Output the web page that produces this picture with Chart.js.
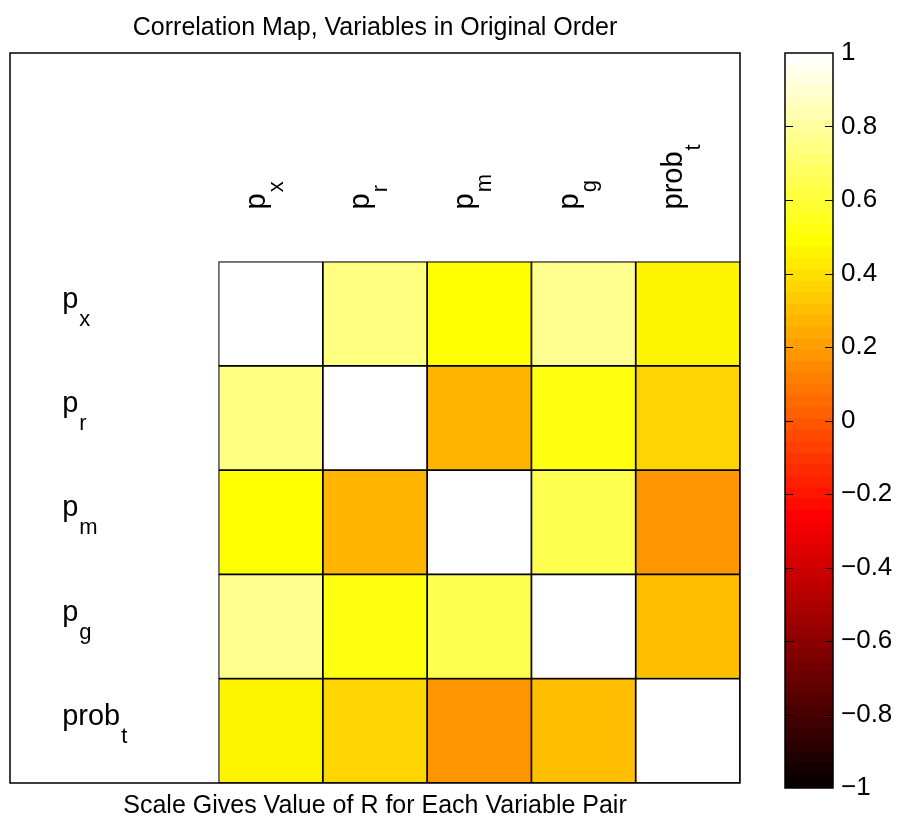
<!DOCTYPE html>
<html>
<head>
<meta charset="utf-8">
<script src="https://cdn.jsdelivr.net/npm/chart.js@4.4.0/dist/chart.umd.min.js"></script>
<style>
  html, body { margin: 0; padding: 0; background: #ffffff; }
  #wrap { position: relative; width: 903px; height: 822px; overflow: hidden; }
  #mainBox { position: absolute; left: 0; top: 0; width: 760px; height: 822px; }
  #cbarBox { position: absolute; left: 760px; top: 0; width: 143px; height: 822px; }
</style>
</head>
<body>
<div id="wrap">
  <div id="mainBox"><canvas id="main" width="760" height="822"></canvas></div>
  <div id="cbarBox"><canvas id="cbar" width="143" height="822"></canvas></div>
</div>
<script>
// ---------------- DATA ----------------
const varBase = ['p', 'p', 'p', 'p', 'prob'];
const varSub  = ['x', 'r', 'm', 'g', 't'];

// correlation coefficients R, one row per variable (p_x, p_r, p_m, p_g, prob_t)
const corrPx   = [1.00, 0.74, 0.48, 0.76, 0.45];
const corrPr   = [0.74, 1.00, 0.26, 0.52, 0.36];
const corrPm   = [0.48, 0.26, 1.00, 0.64, 0.17];
const corrPg   = [0.76, 0.52, 0.64, 1.00, 0.30];
const corrProb = [0.45, 0.36, 0.17, 0.30, 1.00];

const colorbarTicks = [-1, -0.8, -0.6, -0.4, -0.2, 0, 0.2, 0.4, 0.6, 0.8, 1];
const titleText  = 'Correlation Map, Variables in Original Order';
const xLabelText = 'Scale Gives Value of R for Each Variable Pair';

// ---------------- COLORMAP (MATLAB "hot", 64 levels, caxis [-1 1]) ----------------
const cMin = -1, cMax = 1, nLevels = 64;
function hotColor(k) {
  const n = Math.floor(3 / 8 * nLevels);
  const i = k + 1;
  const r = i <= n ? i / n : 1;
  const g = i <= n ? 0 : (i <= 2 * n ? (i - n) / n : 1);
  const b = i <= 2 * n ? 0 : (i - 2 * n) / (nLevels - 2 * n);
  return 'rgb(' + Math.round(r * 255) + ',' + Math.round(g * 255) + ',' + Math.round(b * 255) + ')';
}
function levelOf(v) {
  return Math.min(nLevels - 1, Math.max(0, Math.floor((v - cMin) / (cMax - cMin) * nLevels)));
}
function valueColor(v) { return hotColor(levelOf(v)); }

// ---------------- MAIN MATRIX CHART ----------------
const FONT = "'Liberation Sans', Arial, Helvetica, sans-serif";
const rows = [corrPx, corrPr, corrPm, corrPg, corrProb];
const nVar = varBase.length;
const nPad = 2;                      // empty label band left of the matrix
const nSlots = nVar + nPad;
const xLabels = [];
for (let i = 0; i < nPad; i++) xLabels.push(' '.repeat(i));
varBase.forEach((b, i) => xLabels.push(b + '_' + varSub[i]));

const cellDatasets = rows.map((row, r) => ({
  label: varBase[r] + '_' + varSub[r],
  data: new Array(nPad).fill(null).concat(row.map(() => [nVar - 1 - r, nVar - r])),
  backgroundColor: new Array(nPad).fill('rgba(0,0,0,0)').concat(row.map(valueColor)),
  borderColor: '#000000',
  borderWidth: 1.2,
  borderSkipped: false,
  grouped: false,
  barPercentage: 1,
  categoryPercentage: 1
}));

function drawSubLabel(ctx, base, sub, mainSize, subSize, subDrop) {
  ctx.font = mainSize + 'px ' + FONT;
  ctx.fillText(base, 0, 0);
  const w = ctx.measureText(base).width;
  ctx.font = subSize + 'px ' + FONT;
  ctx.fillText(sub, w + 1, subDrop);
}

const framePlugin = {
  id: 'frame',
  afterDraw(chart) {
    const { ctx, chartArea: a } = chart;
    ctx.save();
    ctx.strokeStyle = '#000';
    ctx.lineWidth = 1.5;
    ctx.strokeRect(a.left, a.top, a.right - a.left, a.bottom - a.top);
    ctx.restore();
  }
};

const varLabelPlugin = {
  id: 'varLabels',
  afterDatasetsDraw(chart) {
    const { ctx } = chart;
    const xs = chart.scales.x, ys = chart.scales.y;
    const mainSize = 29, subSize = 22, subDrop = 18, baseShift = 6;
    ctx.save();
    ctx.fillStyle = '#000';
    ctx.textAlign = 'left';
    ctx.textBaseline = 'alphabetic';
    // row labels (left)
    for (let r = 0; r < nVar; r++) {
      const cy = ys.getPixelForValue(nVar - r - 0.5);
      const x0 = xs.getPixelForValue(0);
      ctx.save();
      ctx.translate(x0, cy - baseShift);
      drawSubLabel(ctx, varBase[r], varSub[r], mainSize, subSize, subDrop);
      ctx.restore();
    }
    // column labels (rotated, above matrix)
    for (let c = 0; c < nVar; c++) {
      const cx = xs.getPixelForValue(c + nPad);
      const y0 = ys.getPixelForValue(nVar + 0.5);
      ctx.save();
      ctx.translate(cx - baseShift, y0);
      ctx.rotate(-Math.PI / 2);
      drawSubLabel(ctx, varBase[c], varSub[c], mainSize, subSize, subDrop);
      ctx.restore();
    }
    ctx.restore();
  }
};

new Chart(document.getElementById('main'), {
  type: 'bar',
  data: { labels: xLabels, datasets: cellDatasets },
  options: {
    responsive: false,
    animation: false,
    devicePixelRatio: 1,
    layout: { padding: { left: 10, right: 20, top: 0, bottom: 0 } },
    scales: {
      x: { type: 'category', display: false, offset: true },
      y: { type: 'linear', display: false, min: 0, max: nSlots }
    },
    plugins: {
      legend: { display: false },
      tooltip: { enabled: false },
      title: {
        display: true, text: titleText, color: '#000',
        font: { family: FONT, size: 25, weight: 'normal' },
        padding: { top: 13, bottom: 10 }
      },
      subtitle: {
        display: true, position: 'bottom', text: xLabelText, color: '#000',
        font: { family: FONT, size: 25, weight: 'normal' },
        padding: { top: 8, bottom: 1 }
      }
    }
  },
  plugins: [framePlugin, varLabelPlugin]
});

// ---------------- COLORBAR ----------------
const step = (cMax - cMin) / nLevels;
const levelDatasets = [];
for (let k = 0; k < nLevels; k++) {
  const lo = cMin + k * step;
  const hi = Math.min(cMax, cMin + (k + 1) * step + step * 0.15);
  levelDatasets.push({
    data: [[lo, hi]],
    backgroundColor: hotColor(k),
    borderWidth: 0,
    grouped: false,
    barPercentage: 1,
    categoryPercentage: 1
  });
}

const cbarFramePlugin = {
  id: 'cbarFrame',
  afterDraw(chart) {
    const { ctx, chartArea: a } = chart;
    const ys = chart.scales.y;
    ctx.save();
    ctx.strokeStyle = '#000';
    ctx.lineWidth = 1.5;
    ctx.strokeRect(a.left, a.top, a.right - a.left, a.bottom - a.top);
    ctx.lineWidth = 1;
    ys.ticks.forEach(t => {
      if (t.value <= cMin || t.value >= cMax) return;
      const py = Math.round(ys.getPixelForValue(t.value)) + 0.5;
      ctx.beginPath();
      ctx.moveTo(a.left, py); ctx.lineTo(a.left + 8, py);
      ctx.moveTo(a.right - 8, py); ctx.lineTo(a.right, py);
      ctx.stroke();
    });
    ctx.restore();
  }
};

new Chart(document.getElementById('cbar'), {
  type: 'bar',
  data: { labels: ['R'], datasets: levelDatasets },
  options: {
    responsive: false,
    animation: false,
    devicePixelRatio: 1,
    layout: { padding: { left: 25, right: 0, top: 53, bottom: 34 } },
    scales: {
      x: { type: 'category', display: false, offset: true },
      y: {
        type: 'linear', position: 'right', min: cMin, max: cMax,
        afterBuildTicks(scale) { scale.ticks = colorbarTicks.map(v => ({ value: v })); },
        afterFit(scale) { scale.width = 70; },
        grid: { display: false, drawTicks: false },
        border: { display: false },
        ticks: {
          padding: 8, color: '#000',
          font: { family: FONT, size: 26 },
          callback: v => {
            const s = String(Math.round(v * 10) / 10);
            return s.replace('-', '\u2212');
          }
        }
      }
    },
    plugins: { legend: { display: false }, tooltip: { enabled: false }, title: { display: false } }
  },
  plugins: [cbarFramePlugin]
});
</script>
</body>
</html>
